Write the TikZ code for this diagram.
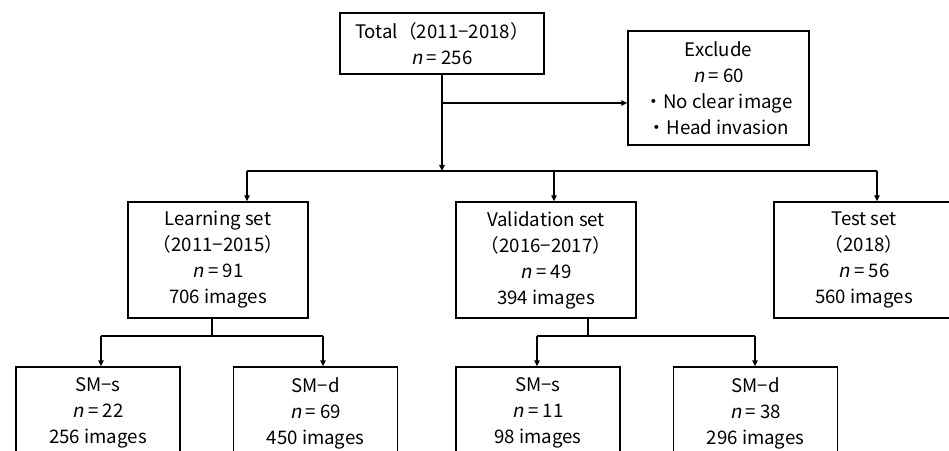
\documentclass[tikz,border=0pt]{standalone}
\usepackage{fontspec}
\setmainfont{Noto Sans CJK JP}[ItalicFont={Noto Sans CJK JP},ItalicFeatures={FakeSlant=0.2}]
\usetikzlibrary{arrows.meta}

\begin{document}
\begin{tikzpicture}[x=0.75pt,y=0.75pt]
\tikzset{
  flowbox/.style={rectangle,draw,line width=1.1pt,inner sep=0pt,align=center,
    font=\fontsize{14}{19.5}\selectfont},
  bigbox/.style={flowbox,minimum width=135pt,minimum height=87pt},
  smallbox/.style={flowbox,minimum width=123pt,minimum height=69pt},
  flowarrow/.style={-{Triangle[length=4.5pt,width=4pt]},line width=1.1pt},
  flowline/.style={line width=1.1pt}
}
\clip (0,0) rectangle (949,450);
\node[flowbox,minimum width=153pt,minimum height=45.75pt] (n_total) at (442,406.5) {Total（2011−2018）\\\textit{n} = 256};
\node[flowbox,minimum width=135.75pt,minimum height=85.5pt] (n_excl) at (718.5,362) {Exclude\\\textit{n} = 60\\・No clear image\\・Head invasion};
\node[bigbox] (n_learn) at (218,190) {Learning set\\（2011−2015）\\\textit{n} = 91\\706 images};
\node[bigbox] (n_valid) at (546,190) {Validation set\\（2016−2017）\\\textit{n} = 49\\394 images};
\node[bigbox] (n_test) at (864,190) {Test set\\（2018）\\\textit{n} = 56\\560 images};
\node[smallbox] (n_ls) at (98,37) {SM−s\\\textit{n} = 22\\256 images};
\node[smallbox] (n_ld) at (315.5,37) {SM−d\\\textit{n} = 69\\450 images};
\node[smallbox] (n_vs) at (538,37) {SM−s\\\textit{n} = 11\\98 images};
\node[smallbox] (n_vd) at (755.5,37) {SM−d\\\textit{n} = 38\\296 images};
% junctions of the connectors
\coordinate (j_excl) at (442,347);
\coordinate (j_bus) at (442,279);
\coordinate (b_l) at (247,279);
\coordinate (b_v) at (554,279);
\coordinate (b_r) at (877,279);
\coordinate (l_mid) at (212,114);
\coordinate (l_l) at (101,114);
\coordinate (l_r) at (323,114);
\coordinate (v_mid) at (588,114);
\coordinate (v_l) at (537,114);
\coordinate (v_r) at (755,114);
\draw[flowarrow] (n_total.south) -- (j_bus);
\draw[flowarrow] (j_excl) -- (j_excl -| n_excl.west);
\draw[flowline] (b_l) -- (b_r);
\draw[flowarrow] (b_l) -- (b_l |- n_learn.north);
\draw[flowarrow] (b_v) -- (b_v |- n_valid.north);
\draw[flowarrow] (b_r) -- (b_r |- n_test.north);
\draw[flowline] (l_mid |- n_learn.south) -- (l_mid);
\draw[flowline] (l_l) -- (l_r);
\draw[flowarrow] (l_l) -- (l_l |- n_ls.north);
\draw[flowarrow] (l_r) -- (l_r |- n_ld.north);
\draw[flowline] (v_mid |- n_valid.south) -- (v_mid);
\draw[flowline] (v_l) -- (v_r);
\draw[flowarrow] (v_l) -- (v_l |- n_vs.north);
\draw[flowarrow] (v_r) -- (v_r |- n_vd.north);
\end{tikzpicture}
\end{document}
